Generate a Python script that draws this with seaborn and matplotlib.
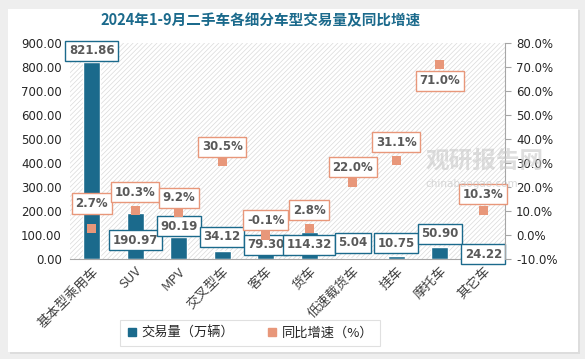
import numpy as np
import pandas as pd
import matplotlib.pyplot as plt
import matplotlib as mpl
import seaborn as sns
from matplotlib.lines import Line2D
from matplotlib.patches import Rectangle

categories = ["基本型乘用车", "SUV", "MPV", "交叉型车", "客车", "货车", "低速载货车", "挂车", "摩托车", "其它车"]
volume = [821.86, 190.97, 90.19, 34.12, 79.30, 114.32, 5.04, 10.75, 50.90, 24.22]
growth = [2.7, 10.3, 9.2, 30.5, -0.1, 2.8, 22.0, 31.1, 71.0, 10.3]

# label offsets in pixels (layout only)
vol_label_dy = [11, -27, 11, 14, -5, -13, 15, 13, 13, -1]
gr_label_dy = [25, 18, 15, 15, 15, 18, 15, 18, -16, 16]

bar_color = "#1B6A8C"
dot_color = "#E8977A"
text_color = "#595959"

sns.set_style("white")
plt.rcParams['font.family'] = ['Noto Sans CJK SC', 'DejaVu Sans']
plt.rcParams['hatch.color'] = '#DADADA'
plt.rcParams['hatch.linewidth'] = 0.5

df = pd.DataFrame({"cat": categories, "volume": volume, "growth": growth})
x = np.arange(len(categories))

fig = plt.figure(figsize=(5.85, 3.59), dpi=100)
fig.patch.set_facecolor("#EEEEEE")
fig.patches.append(Rectangle((10 / 585, 1 - 354 / 359), 570 / 585, 344 / 359,
                             transform=fig.transFigure, facecolor="#DDDDDD",
                             edgecolor="none", zorder=-10))
fig.patches.append(Rectangle((8 / 585, 1 - 352 / 359), 570 / 585, 343 / 359,
                             transform=fig.transFigure, facecolor="white",
                             edgecolor="none", zorder=-9))

ax = fig.add_axes([70 / 585, 1 - 259 / 359, 435 / 585, 216 / 359])
ax.patch.set_facecolor("white")
ax.patch.set_hatch("///////")
ax.patch.set_edgecolor("#DADADA")
ax.patch.set_linewidth(0)

sns.barplot(data=df, x="cat", y="volume", color=bar_color, width=0.4,
            saturation=1, ax=ax, zorder=2)
ax.set_ylim(0, 900)
ax.set_yticks(np.arange(0, 901, 100))
ax.set_yticklabels([f"{v:.2f}" for v in np.arange(0, 901, 100)], fontsize=8.5,
                   family=['DejaVu Sans'])
ax.set_xlim(-0.5, len(categories) - 0.5)
ax.set_xlabel("")
ax.set_ylabel("")
ax.tick_params(axis="y", length=0, pad=6)
ax.tick_params(axis="x", length=0, pad=4)
ax.set_xticks(x)
ax.set_xticklabels(categories, rotation=45, ha="right", rotation_mode="anchor",
                   fontsize=9.5, color="#404040")
for s in ["top", "left", "right"]:
    ax.spines[s].set_visible(False)
ax.spines["bottom"].set_color("#A6A6A6")

ax2 = ax.twinx()
sns.scatterplot(x=x, y=df["growth"], marker="s", s=40, color=dot_color,
                edgecolor="none", ax=ax2, zorder=3)
ax2.set_ylim(-10, 80)
ax2.set_yticks(np.arange(-10, 81, 10))
ax2.set_yticklabels([f"{v:.1f}%" for v in np.arange(-10, 81, 10)], fontsize=8.5,
                    family=['DejaVu Sans'])
ax2.set_ylabel("")
ax2.tick_params(axis="y", length=4, color="#A6A6A6", pad=4)
for s in ["top", "left", "bottom"]:
    ax2.spines[s].set_visible(False)
ax2.spines["right"].set_color("#A6A6A6")

# watermark
fig.text(485 / 585, 1 - 161 / 359, "观研报告网", fontsize=17,
         fontweight="bold", color="#C8C8C8", alpha=0.6, ha="center", va="center", zorder=1)
fig.text(472 / 585, 1 - 184 / 359, "chinabaogao.com", fontsize=7.5,
         color="#C8C8C8", alpha=0.7, ha="center", va="center", zorder=1,
         family=['DejaVu Sans'])

for i, (v, dy) in enumerate(zip(volume, vol_label_dy)):
    ax.annotate(f"{v:.2f}", xy=(i, v), xytext=(0, dy), textcoords="offset pixels",
                ha="center", va="center", fontsize=8.5, fontweight="bold",
                color=text_color, family=['DejaVu Sans'], zorder=5,
                bbox=dict(boxstyle="square,pad=0.3", fc="white", ec=bar_color, lw=1))

for i, (g, dy) in enumerate(zip(growth, gr_label_dy)):
    ax2.annotate(f"{g:.1f}%", xy=(i, g), xytext=(0, dy), textcoords="offset pixels",
                 ha="center", va="center", fontsize=8.5, fontweight="bold",
                 color=text_color, family=['DejaVu Sans'], zorder=5,
                 bbox=dict(boxstyle="square,pad=0.3", fc="white", ec=dot_color, lw=1))

fig.text(0.445, 1 - 20 / 359, "2024年1-9月二手车各细分车型交易量及同比增速",
         ha="center", va="center", fontsize=10.5, fontweight="bold", color="#1B6A8C")

handles = [Line2D([], [], marker="s", ls="none", color=bar_color, markersize=5.5),
           Line2D([], [], marker="s", ls="none", color=dot_color, markersize=5.5)]
leg = fig.legend(handles, ["交易量（万辆）", "同比增速（%）"], loc="center",
                 bbox_to_anchor=(250 / 585, 1 - 333 / 359), ncol=2, fontsize=9.5,
                 frameon=True, fancybox=False, edgecolor="#D9D9D9",
                 handlelength=0.8, handletextpad=0.3, columnspacing=2.5,
                 borderpad=0.5, borderaxespad=0)
leg.get_frame().set_linewidth(0.8)
leg.get_frame().set_boxstyle("square", pad=0)

plt.savefig("out.png", dpi=100)
